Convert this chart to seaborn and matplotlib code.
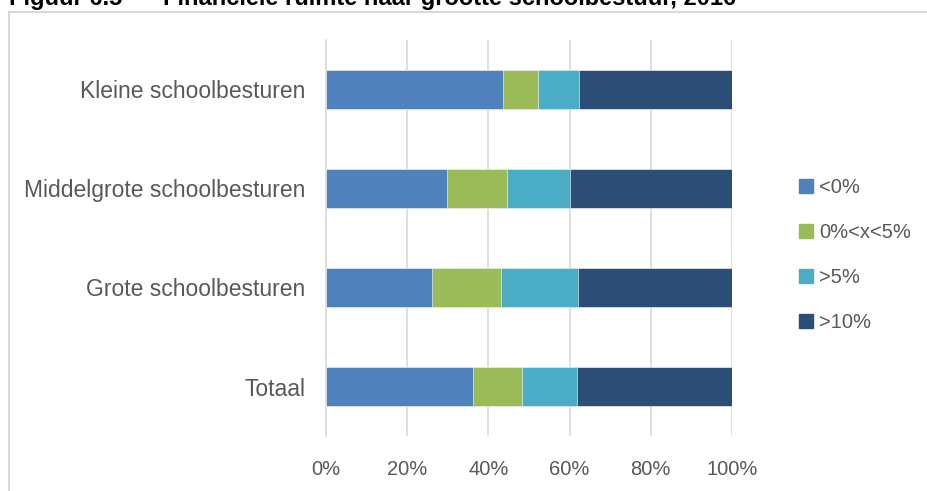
import matplotlib
matplotlib.use("Agg")
import matplotlib.pyplot as plt
import matplotlib.patches as mpatches
import seaborn as sns
import pandas as pd
import numpy as np

# data (percent per bracket)
categories = ["Kleine schoolbesturen", "Middelgrote schoolbesturen",
              "Grote schoolbesturen", "Totaal"]
series_names = ["<0%", "0%<x<5%", ">5%", ">10%"]
neg = [43.5, 29.7, 26.0, 36.3]
low = [8.6, 14.9, 17.0, 12.0]
mid = [10.3, 15.6, 19.1, 13.5]
high = [37.6, 39.8, 37.9, 38.2]
x_ticks = [0, 20, 40, 60, 80, 100]

colors = ["#4F81BD", "#9BBB59", "#4BACC6", "#2C4D75"]
grey_text = "#595959"
grey_line = "#D9D9D9"

sns.set_theme(style="white")
plt.rcParams["font.family"] = ["Liberation Sans", "DejaVu Sans"]

df = pd.DataFrame({"cat": categories, series_names[0]: neg,
                   series_names[1]: low, series_names[2]: mid,
                   series_names[3]: high})
cum = df[series_names].cumsum(axis=1)

fig = plt.figure(figsize=(9.27, 4.91), dpi=100)
ax = fig.add_axes([326 / 927, 1 - 436 / 491, (732 - 326) / 927, (436 - 40) / 491])

# stacked bars: draw cumulative totals from the largest down
for name, col in reversed(list(zip(series_names, colors))):
    sns.barplot(x=cum[name], y=df["cat"], orient="h", color=col,
                width=0.4, saturation=1, ax=ax, zorder=3,
                edgecolor="white", linewidth=0.4)

ax.set_xlim(0, 100)
ax.set_ylim(3.5, -0.5)
ax.set_xticks(x_ticks)
ax.set_xticklabels([f"{t}%" for t in x_ticks])
ax.set_xlabel("")
ax.set_ylabel("")
ax.xaxis.grid(True, color=grey_line, linewidth=1.2, zorder=0)
ax.set_axisbelow(True)

for s in ["top", "right", "bottom"]:
    ax.spines[s].set_visible(False)
ax.spines["left"].set_color(grey_line)
ax.spines["left"].set_linewidth(1.2)

ax.tick_params(axis="x", length=0, pad=17, labelsize=14.5, labelcolor=grey_text)
ax.tick_params(axis="y", which="major", length=0, pad=15, labelsize=16.5,
               labelcolor=grey_text)
ax.set_yticks(np.arange(-0.5, 4, 1), minor=True)
ax.tick_params(axis="y", which="minor", length=6, width=1.2, color=grey_line)

handles = [mpatches.Patch(color=c, label=n) for n, c in zip(series_names, colors)]
fig.legend(handles=handles, loc="center left",
           bbox_to_anchor=(781 / 927, 1 - 255 / 491), frameon=False,
           fontsize=14.5, labelcolor=grey_text, handlelength=0.7,
           handleheight=0.7, handletextpad=0.3, labelspacing=1.3)

# outer frame of the figure box
fig.patches.append(mpatches.Rectangle((9 / 927, -0.1), 1.1, 1 - 12 / 491 + 0.1,
                                      transform=fig.transFigure, fill=False,
                                      edgecolor=grey_line, linewidth=1.5))

# title, clipped at the top edge
fig.text(9 / 927, 1 - 5 / 491, "Figuur 6.5", fontsize=17, fontweight="bold",
         va="baseline", color="black")
fig.text(163 / 927, 1 - 5 / 491, "Financiële ruimte naar grootte schoolbestuur, 2016",
         fontsize=17, fontweight="bold", va="baseline", color="black")

fig.savefig("out.png", dpi=100)
